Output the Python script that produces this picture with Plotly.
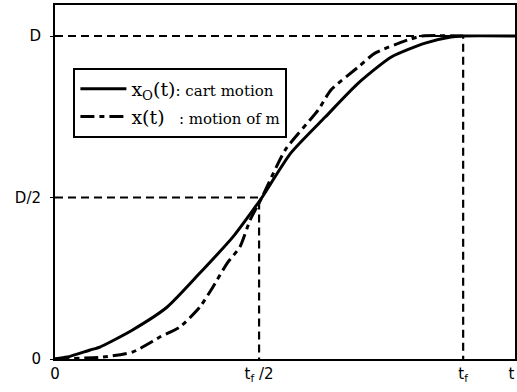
import plotly.graph_objects as go

# cart motion x0(t) (t in units of tf, x in units of D)
t_cart = [0, 0.03, 0.086, 0.11, 0.19, 0.275, 0.355, 0.436, 0.485, 0.507,
          0.578, 0.662, 0.743, 0.824, 0.907, 0.97, 1.0, 1.127]
x_cart = [0, 0.006, 0.028, 0.037, 0.09, 0.161, 0.266, 0.378, 0.461, 0.5,
          0.638, 0.749, 0.854, 0.935, 0.978, 0.997, 1.0, 1.0]

# motion of mass x(t)
t_mass = [0, 0.118, 0.191, 0.257, 0.306, 0.355, 0.387, 0.422, 0.453, 0.478,
          0.507, 0.564, 0.645, 0.676, 0.743, 0.784, 0.865, 0.9, 1.0]
x_mass = [0, 0.006, 0.022, 0.068, 0.099, 0.161, 0.223, 0.297, 0.347, 0.43,
          0.5, 0.647, 0.771, 0.833, 0.904, 0.947, 0.988, 1.0, 1.0]

x_tickvals = [0, 0.5, 1.0, 1.118]
x_ticktext = ["0", "t<sub>f</sub> /2", "t<sub>f</sub>", "t"]
y_tickvals = [0, 0.5, 1.0]
y_ticktext = ["0", "D/2", "D"]

t_max = 1.127
x_max = 1.096

fig = go.Figure()

# reference dashed lines
dash_ref = dict(color="black", width=2.2, dash="8px,5px")
fig.add_trace(go.Scatter(x=[0, 1.0, 1.0], y=[1.0, 1.0, 0], mode="lines",
                         line=dash_ref, showlegend=False, hoverinfo="skip"))
fig.add_trace(go.Scatter(x=[0, 0.5, 0.5], y=[0.5, 0.5, 0], mode="lines",
                         line=dash_ref, showlegend=False, hoverinfo="skip"))

fig.add_trace(go.Scatter(
    x=t_cart, y=x_cart, mode="lines",
    line=dict(color="black", width=3, shape="spline", smoothing=0.6),
    name="x<sub>O</sub>(t)<span style='font-size:15px'>: cart motion</span>"))
fig.add_trace(go.Scatter(
    x=t_mass, y=x_mass, mode="lines",
    line=dict(color="black", width=3, shape="spline", smoothing=0.6,
              dash="14px,5px,5px,5px"),
    name="x(t)<span style='font-size:15px'>   : motion of m</span>"))

fig.update_layout(
    width=517, height=392,
    margin=dict(l=55, r=2, t=5, b=33),
    plot_bgcolor="white", paper_bgcolor="white",
    showlegend=True,
    legend=dict(x=0.04, y=0.822, xanchor="left", yanchor="top",
                bordercolor="black", borderwidth=2, bgcolor="white",
                font=dict(family="DejaVu Serif", size=19, color="black"),
                itemwidth=46, tracegroupgap=0),
    xaxis=dict(range=[0, t_max], showgrid=False, zeroline=False,
               showline=True, linecolor="black", linewidth=2, mirror=True,
               tickmode="array", tickvals=x_tickvals, ticktext=x_ticktext,
               ticks="", automargin=False,
               tickfont=dict(family="DejaVu Sans", size=15, color="black")),
    yaxis=dict(range=[0, x_max], showgrid=False, zeroline=False,
               showline=True, linecolor="black", linewidth=2, mirror=True,
               tickmode="array", tickvals=y_tickvals, ticktext=y_ticktext,
               ticks="outside", ticklen=3, tickcolor="black", ticklabelstandoff=6,
               automargin=False,
               tickfont=dict(family="DejaVu Sans", size=15, color="black")),
)

fig.write_html("out.html", config={"displayModeBar": False},
               post_script="document.body.style.margin='0';")
